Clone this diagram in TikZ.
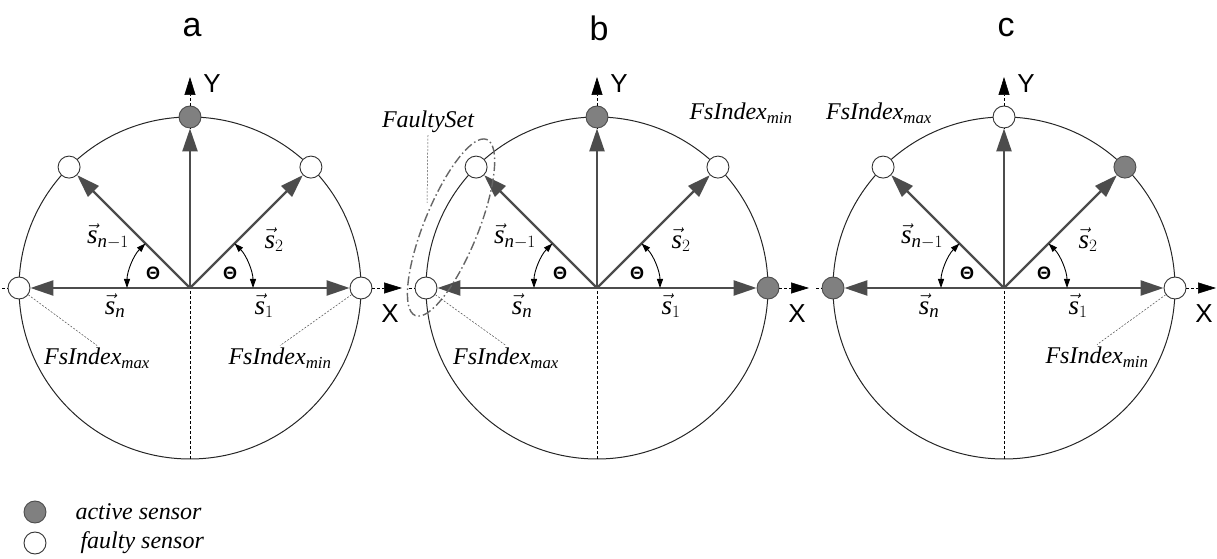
\documentclass[tikz,border=0pt]{standalone}
\usepackage{fontspec}
\setmainfont{Liberation Serif}
\newfontfamily\axfont{Liberation Sans}
\usetikzlibrary{arrows.meta, positioning, calc, shapes.geometric}
\tikzset{
  rim/.style      = {draw=black!85, line width=1pt},
  sensor/.style   = {circle, draw=black!80, line width=0.9pt, fill=white,
                     minimum size=22pt, inner sep=0pt},
  active/.style   = {sensor, fill=black!50, draw=black!70},
  vec/.style      = {draw=black!70, line width=2.4pt, -{Triangle[length=23pt, width=15pt]}},
  axisline/.style = {draw=black, line width=0.6pt, dash pattern=on 3pt off 2pt},
  axistip/.style  = {axisline, -{Triangle[length=18pt, width=11pt]}},
  angarc/.style   = {line width=0.9pt, {Triangle[length=9pt, width=6pt]}-{Triangle[length=9pt, width=6pt]}},
  leader/.style   = {draw=black!70, line width=0.5pt, dash pattern=on 2pt off 1.5pt},
  faultset/.style = {ellipse, draw=black!60, line width=1.4pt,
                     dash pattern=on 9pt off 3pt on 1.5pt off 3pt,
                     minimum width=190pt, minimum height=54pt, inner sep=0pt},
  idx/.style      = {font=\fontsize{24}{28}\selectfont, inner sep=2pt},
  veclab/.style   = {font=\fontsize{27}{31}\selectfont},
  theta/.style    = {font=\axfont\bfseries\fontsize{18}{20}\selectfont},
  axlab/.style    = {font=\axfont\fontsize{26}{30}\selectfont},
  panellab/.style = {font=\axfont\fontsize{34}{40}\selectfont},
  keytext/.style  = {font=\itshape\fontsize{24}{28}\selectfont, anchor=west},
}
\newcommand{\fsidx}[1]{$\mathit{FsIndex}_{\mathit{#1}}$}
% #1 name, #2 centre x, #3 letter, #4..#8 styles of s1, s2, top, s(n-1), sn
\newcommand{\sensorpanel}[8]{%
  \begin{scope}[shift={(#2,271)}]
    \coordinate (#1-o) at (0,0);
    \coordinate (#1-xl) at (-188,0);
    \coordinate (#1-xtip) at (212,0);
    \coordinate (#1-yb) at (0,-171);
    \coordinate (#1-ytip) at (0,211);
    \draw[rim] (#1-o) circle[radius=171];
    \node[#4] (#1-s1) at (0:171) {};
    \node[#5] (#1-s2) at (45:171) {};
    \node[#6] (#1-s3) at (90:171) {};
    \node[#7] (#1-sn1) at (135:171) {};
    \node[#8] (#1-sn) at (180:171) {};
    \draw[axisline] (#1-yb) -- (#1-s3);
    \draw[axisline] (#1-xl) -- (#1-sn);
    \draw[axistip] (#1-s3) -- (#1-ytip);
    \draw[axistip] (#1-s1) -- (#1-xtip);
    \draw[vec] (#1-o) -- (#1-s1);
    \draw[vec] (#1-o) -- (#1-s2);
    \draw[vec] (#1-o) -- (#1-s3);
    \draw[vec] (#1-o) -- (#1-sn1);
    \draw[vec] (#1-o) -- (#1-sn);
    \draw[angarc] (63,0) arc[start angle=0, end angle=45, radius=63];
    \draw[angarc] (-63,0) arc[start angle=180, end angle=135, radius=63];
    \node[theta] (#1-t1) at (40,15) {Θ};
    \node[theta] (#1-t2) at (-37,15) {Θ};
    \node[veclab] (#1-l1) at (74,-18) {$\vec{\mathit{s}}_1$};
    \node[veclab] (#1-l2) at (84,48) {$\vec{\mathit{s}}_2$};
    \node[veclab] (#1-ln1) at (-82,52) {$\vec{\mathit{s}}_{\mathit{n}-1}$};
    \node[veclab] (#1-ln) at (-75,-18) {$\vec{\mathit{s}}_{\mathit{n}}$};
    \node[panellab] (#1-name) at (2,260) {#3};
    \node[axlab] (#1-ylab) at (22,204) {Y};
    \node[axlab] (#1-xlab) at (200,-26) {X};
  \end{scope}}

\begin{document}
\begin{tikzpicture}[x=1pt, y=1pt]
  \useasboundingbox (0,0) rectangle (1217,559);

  \sensorpanel{a}{190}{a}{sensor}{sensor}{active}{sensor}{sensor}
  \sensorpanel{b}{597}{b}{active}{sensor}{active}{sensor}{sensor}
  \sensorpanel{c}{1004}{c}{sensor}{active}{sensor}{sensor}{active}

  % panel a
  \node[idx] (amax) at (97,201) {\fsidx{max}};
  \node[idx] (amin) at (280,201) {\fsidx{min}};
  \draw[leader] (a-sn) -- (amax.north);
  \draw[leader] (a-s1) -- (amin.north);

  % panel b
  \node[faultset, rotate=67.9] (fs) at ($(b-sn)!0.5!(b-sn1)$) {};
  \node[idx] (fslab) at (428,437) {$\mathit{FaultySet}$};
  \coordinate (fsend) at (427,356);
  \draw[leader] (fslab.south) -- (fsend);
  \node[idx] (bmax) at (506,201) {\fsidx{max}};
  \node[idx] (bmin) at (741,446) {\fsidx{min}};
  \draw[leader] (b-sn) -- (bmax.north);

  % panel c
  \node[idx] (cmax) at (879,446) {\fsidx{max}};
  \node[idx] (cmin) at (1097,202) {\fsidx{min}};
  \draw[leader] (c-s1) -- (cmin.north);

  % legend
  \node[active] (keyact) at (35,47) {};
  \node[sensor] (keyfty) at (35,16) {};
  \node[keytext] (keyacttxt) at (72,47) {active sensor};
  \node[keytext] (keyftytxt) at (77,16) {faulty sensor};
\end{tikzpicture}
\end{document}
